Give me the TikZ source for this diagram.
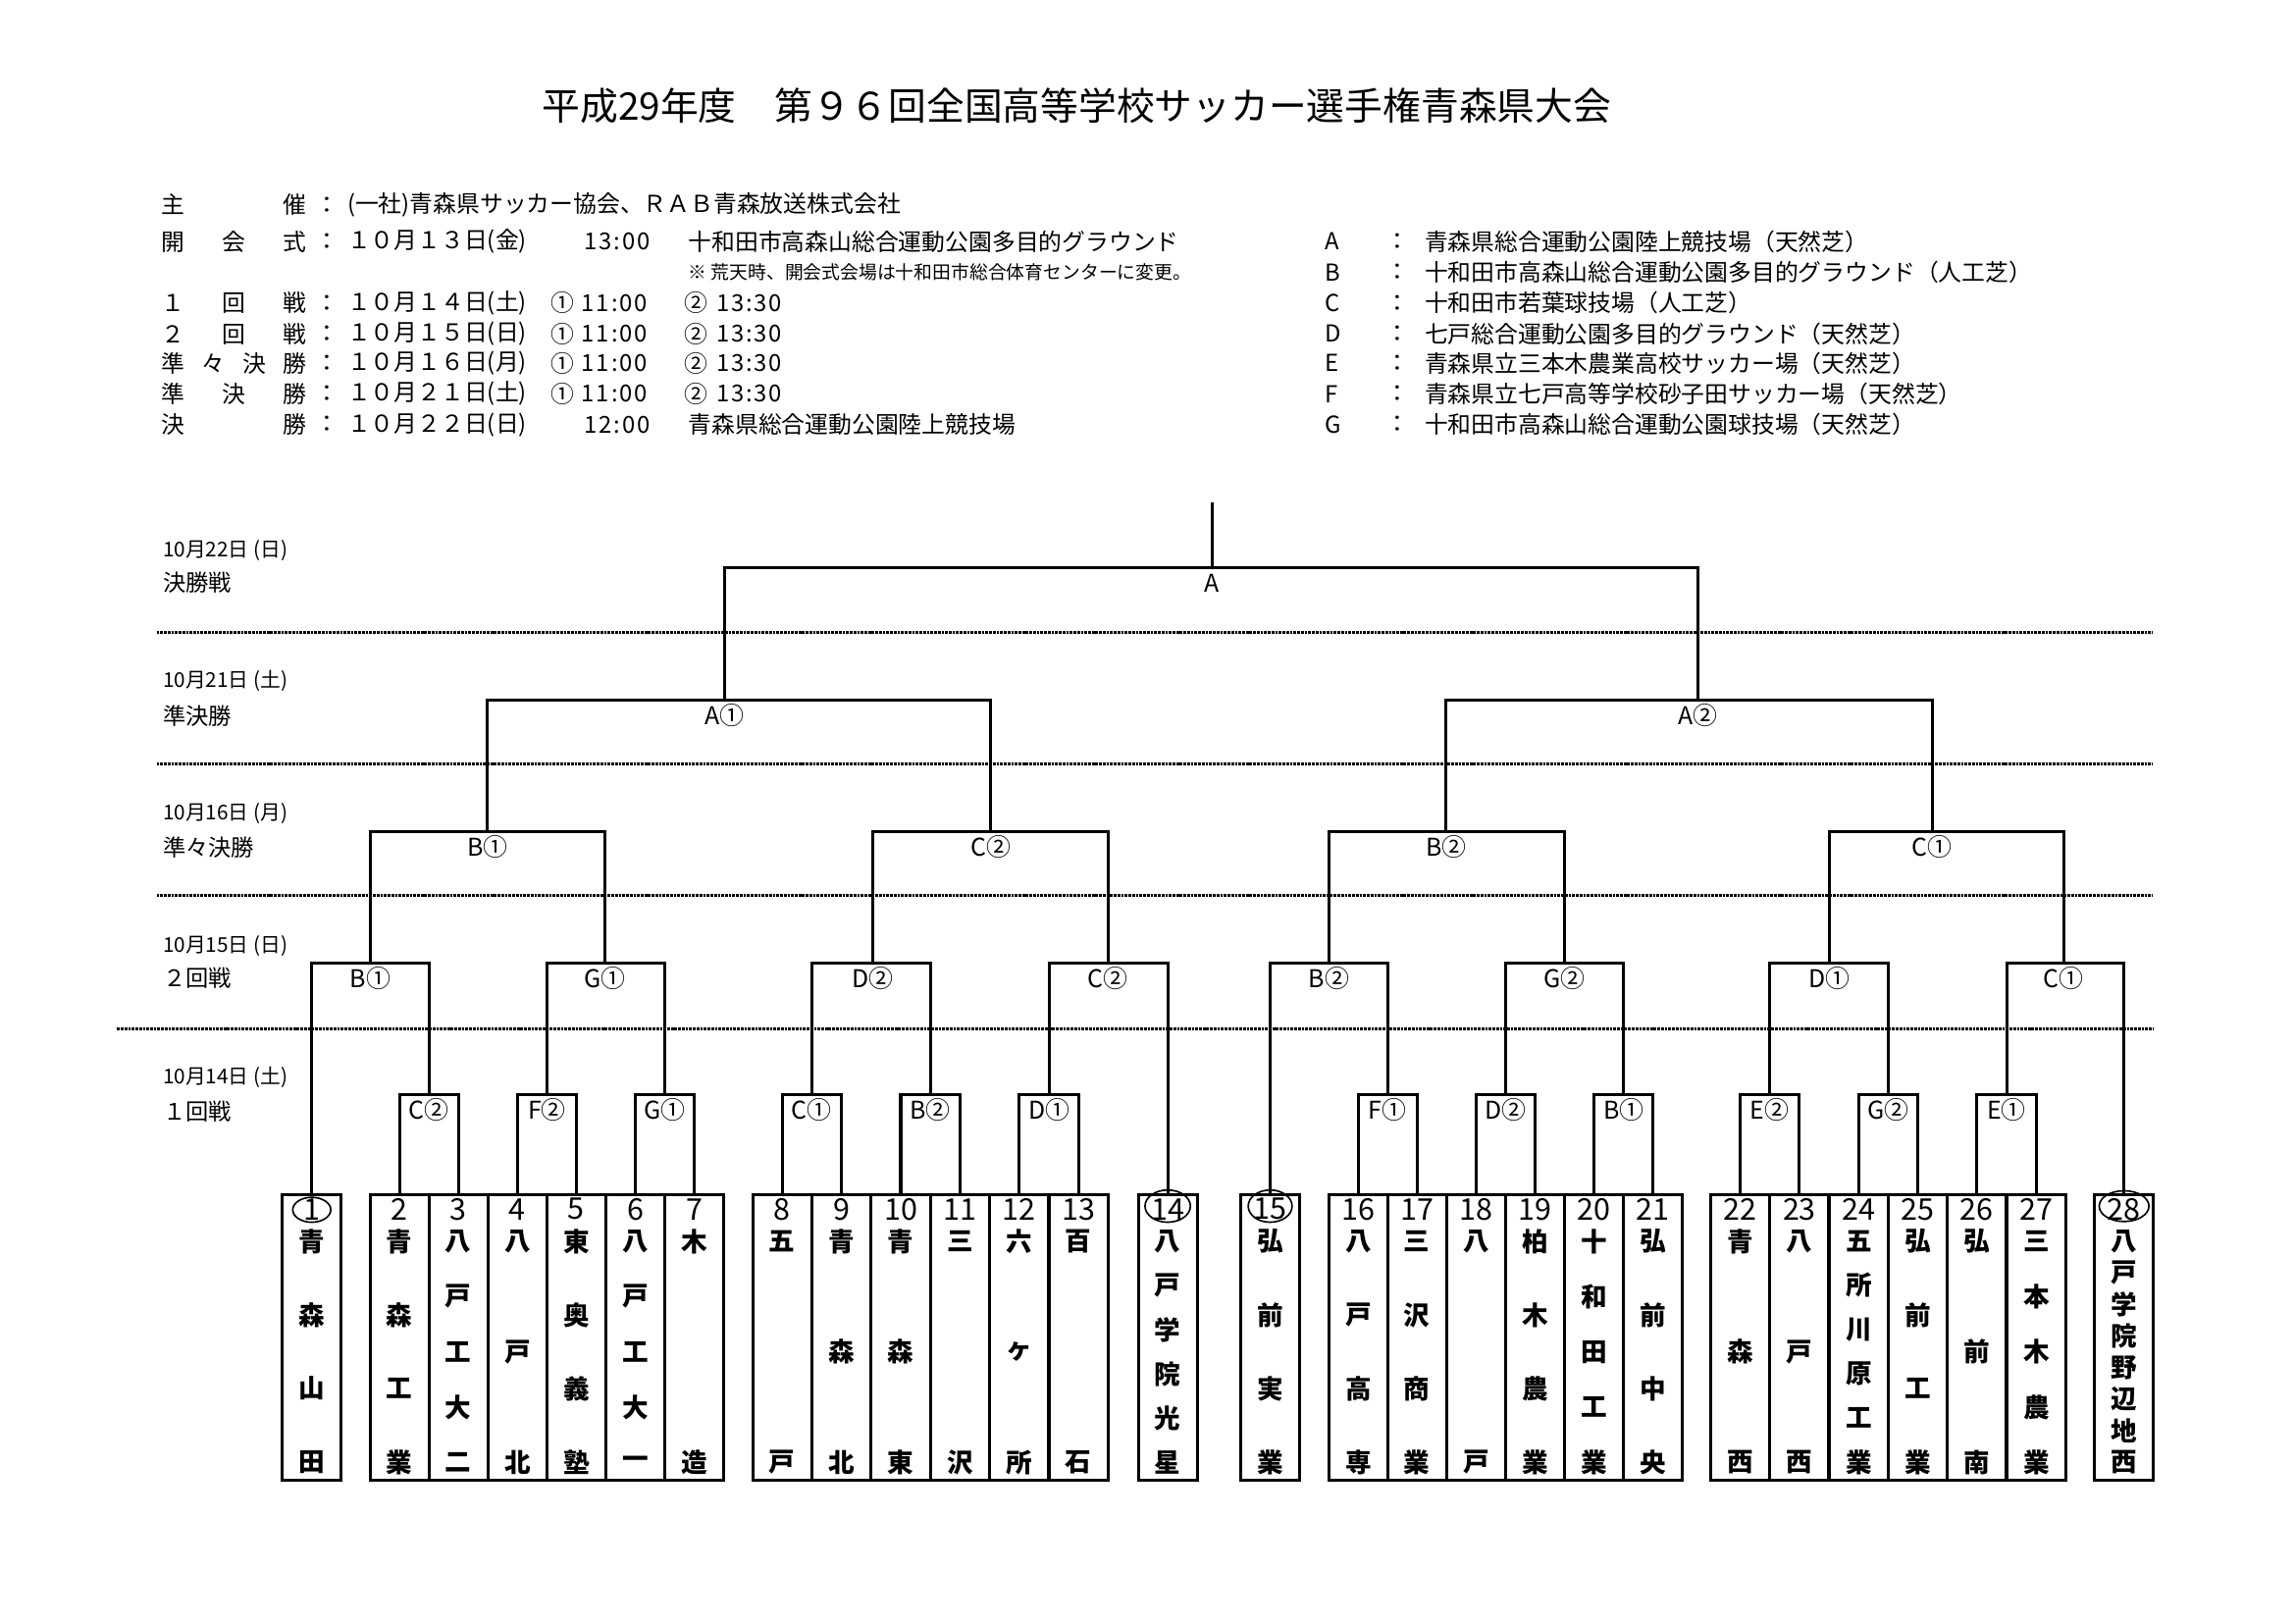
\documentclass[tikz,border=0pt]{standalone}
\usepackage{fontspec}
\setmainfont{Noto Sans CJK JP}
\usetikzlibrary{calc}

\begin{document}
\begin{tikzpicture}[x=0.0189413cm, y=-0.0189413cm,
    bracket/.style={line width=1.1pt},
    divider/.style={line width=1.1pt, dash pattern=on 1pt off 0.35pt},
    teambox/.style={draw, line width=1.1pt, minimum width=0.7633cm, minimum height=3.6936cm, inner sep=0pt, outer sep=0pt},
    teamnum/.style={inner sep=0pt, font=\fontsize{11pt}{11pt}\selectfont},
    teamname/.style={inner sep=0pt, font=\fontsize{9.6pt}{9.6pt}\selectfont\bfseries},
    seed/.style={line width=0.6pt},
    matchlab/.style={inner sep=0pt, font=\fontsize{9pt}{9pt}\selectfont},
    info/.style={anchor=west, inner sep=0pt, font=\fontsize{8.6pt}{8.6pt}\selectfont},
    colon/.style={inner sep=0pt, font=\fontsize{8.6pt}{8.6pt}\selectfont},
    daylab/.style={anchor=west, inner sep=0pt, font=\fontsize{7.5pt}{7.5pt}\selectfont},
    roundlab/.style={anchor=west, inner sep=0pt, font=\fontsize{8.4pt}{8.4pt}\selectfont}]

    \useasboundingbox (0,0) rectangle (1568,1109);

    % --- Titulo ---
    \node[anchor=west, inner sep=0pt, font=\fontsize{14pt}{14pt}\selectfont] (title) at (370,72)
        {平成29年度　第９６回全国高等学校サッカー選手権青森県大会};

    % --- 日程 (esquerda) ---
    \node[info] (org-lab) at (110,140) {\makebox[1.875cm][s]{主\hfill 催}};
    \node[colon] (org-col) at (223.5,140) {：};
    \node[info] (org-txt) at (237,140) {(一社)青森県サッカー協会、ＲＡＢ青森放送株式会社};

    \foreach \yy/\lab/\dt in {165/{開\hfill 会\hfill 式}/１０月１３日(金),
                              207/{１\hfill 回\hfill 戦}/１０月１４日(土),
                              228/{２\hfill 回\hfill 戦}/１０月１５日(日),
                              248/{準\hfill 々\hfill 決\hfill 勝}/１０月１６日(月),
                              269/{準\hfill 決\hfill 勝}/１０月２１日(土),
                              290/{決\hfill 勝}/１０月２２日(日)} {
        \node[info] (day-\yy) at (110,\yy) {\makebox[1.875cm][s]{\lab}};
        \node[colon] (col-\yy) at (223.5,\yy) {：};
        \node[info] (date-\yy) at (237,\yy) {\dt};
    }

    % Horarios
    \node[info] (open-time) at (399,165) {\addfontfeature{LetterSpace=8}13:00};
    \node[info] (open-venue) at (470,165) {十和田市高森山総合運動公園多目的グラウンド};
    \node[info, font=\fontsize{6.8pt}{6.8pt}\selectfont] (open-note) at (470,186)
        {※ 荒天時、開会式会場は十和田市総合体育センターに変更。};
    \foreach \yy in {207,228,248,269} {
        \node[info] (k1-\yy) at (376,\yy) {①};
        \node[info] (t1-\yy) at (397,\yy) {\addfontfeature{LetterSpace=8}11:00};
        \node[info] (k2-\yy) at (467.5,\yy) {②};
        \node[info] (t2-\yy) at (489,\yy) {\addfontfeature{LetterSpace=8}13:30};
    }
    \node[info] (final-time) at (399,290) {\addfontfeature{LetterSpace=8}12:00};
    \node[info] (final-venue) at (470,290) {青森県総合運動公園陸上競技場};

    % --- Locais (direita) ---
    \foreach \yy/\vn/\txt in {165/A/青森県総合運動公園陸上競技場（天然芝）,
                              186/B/十和田市高森山総合運動公園多目的グラウンド（人工芝）,
                              207/C/十和田市若葉球技場（人工芝）,
                              228/D/七戸総合運動公園多目的グラウンド（天然芝）,
                              248/E/青森県立三本木農業高校サッカー場（天然芝）,
                              269/F/青森県立七戸高等学校砂子田サッカー場（天然芝）,
                              290/G/十和田市高森山総合運動公園球技場（天然芝）} {
        \node[info] (v-\vn) at (905,\yy) {\vn};
        \node[colon] (vc-\vn) at (955,\yy) {：};
        \node[info] (vt-\vn) at (973,\yy) {\txt};
    }

    % --- Rotulos das rodadas ---
    \foreach \ya/\yb/\dd/\rr in {376/398/10月22日 (日)/決勝戦,
                                 465/489/10月21日 (土)/準決勝,
                                 556/579/10月16日 (月)/準々決勝,
                                 646/668/10月15日 (日)/２回戦,
                                 736/759/10月14日 (土)/１回戦} {
        \node[daylab] (dd-\ya) at (111,\ya) {\dd};
        \node[roundlab] (rr-\yb) at (111,\yb) {\rr};
    }

    % Linhas pontilhadas
    \foreach \yy in {432,522,612}
        \draw[divider] (107,\yy) -- (1471,\yy);
    \draw[divider] (80,703) -- (1471,703);

    % --- Equipes ---
    \foreach \num/\xc/\nc/\chars in {
        1/213/4/{青,森,山,田}, 2/272.9/4/{青,森,工,業}, 3/313.2/5/{八,戸,工,大,二},
        4/353.5/3/{八,戸,北}, 5/393.8/4/{東,奥,義,塾}, 6/434.1/5/{八,戸,工,大,一},
        7/474.4/2/{木,造}, 8/534.4/2/{五,戸}, 9/574.9/3/{青,森,北},
        10/615.4/3/{青,森,東}, 11/655.9/2/{三,沢}, 12/696.4/3/{六,ヶ,所},
        13/736.9/2/{百,石}, 14/797.8/6/{八,戸,学,院,光,星}, 15/867.8/4/{弘,前,実,業},
        16/928/4/{八,戸,高,専}, 17/968.2/4/{三,沢,商,業}, 18/1008.5/2/{八,戸},
        19/1048.8/4/{柏,木,農,業}, 20/1089.1/5/{十,和,田,工,業}, 21/1129.4/4/{弘,前,中,央},
        22/1189/3/{青,森,西}, 23/1229.4/3/{八,戸,西}, 24/1269.9/6/{五,所,川,原,工,業},
        25/1310.3/4/{弘,前,工,業}, 26/1350.7/3/{弘,前,南}, 27/1391.2/5/{三,本,木,農,業},
        28/1451.2/8/{八,戸,学,院,野,辺,地,西}} {
        \node[teambox] (t\num) at (\xc,913.5) {};
        \node[teamnum] (n\num) at (\xc,826) {\num};
        \foreach \ch [count=\kk] in \chars
            \node[teamname] (c\num-\kk) at (\xc,{848+151*(\kk-1)/(\nc-1)}) {\ch};
    }

    % Sementes (circulos)
    \foreach \tn/\dy/\rx/\ry in {1/10.5/13/8.5, 14/8/15.5/11, 15/8/15/11, 28/8/17/10.5}
        \draw[seed] ($(t\tn.north)+(0,\dy)$) ellipse [x radius=\rx, y radius=\ry];

    % --- Chave ---
    % 1回戦
    \coordinate (r1a) at (293.05,748);
    \coordinate (r1b) at (373.65,748);
    \coordinate (r1c) at (454.25,748);
    \coordinate (r1d) at (554.65,748);
    \coordinate (r1e) at (635.65,748);
    \coordinate (r1f) at (716.65,748);
    \coordinate (r1g) at (948.1,748);
    \coordinate (r1h) at (1028.65,748);
    \coordinate (r1i) at (1109.25,748);
    \coordinate (r1j) at (1209.2,748);
    \coordinate (r1k) at (1290.1,748);
    \coordinate (r1l) at (1370.95,748);
    % 2回戦
    \coordinate (r2a) at (253,658);
    \coordinate (r2b) at (413,658);
    \coordinate (r2c) at (596,658);
    \coordinate (r2d) at (757,658);
    \coordinate (r2e) at (908,658);
    \coordinate (r2f) at (1069,658);
    \coordinate (r2g) at (1250,658);
    \coordinate (r2h) at (1410,658);
    % 準々決勝
    \coordinate (qa) at (333,568);
    \coordinate (qb) at (677,568);
    \coordinate (qc) at (988,568);
    \coordinate (qd) at (1320,568);
    % 準決勝 / 決勝
    \coordinate (sa) at (495,478);
    \coordinate (sb) at (1160,478);
    \coordinate (fin) at (828,388);
    \coordinate (top) at (828,343);

    \foreach \m/\ca/\cb/\lab in {
        r1a/t2.north/t3.north/C②, r1b/t4.north/t5.north/F②, r1c/t6.north/t7.north/G①,
        r1d/t8.north/t9.north/C①, r1e/t10.north/t11.north/B②, r1f/t12.north/t13.north/D①,
        r1g/t16.north/t17.north/F①, r1h/t18.north/t19.north/D②, r1i/t20.north/t21.north/B①,
        r1j/t22.north/t23.north/E②, r1k/t24.north/t25.north/G②, r1l/t26.north/t27.north/E①,
        r2a/t1.north/r1a/B①, r2b/r1b/r1c/G①, r2c/r1d/r1e/D②, r2d/r1f/t14.north/C②,
        r2e/t15.north/r1g/B②, r2f/r1h/r1i/G②, r2g/r1j/r1k/D①, r2h/r1l/t28.north/C①,
        qa/r2a/r2b/B①, qb/r2c/r2d/C②, qc/r2e/r2f/B②, qd/r2g/r2h/C①,
        sa/qa/qb/A①, sb/qc/qd/A②, fin/sa/sb/A} {
        \draw[bracket] (\ca) |- (\m) -| (\cb);
        \node[matchlab] (lab-\m) at ([yshift=-5.6pt]\m) {\lab};
    }
    \draw[bracket] (top) -- (fin);

\end{tikzpicture}
\end{document}
